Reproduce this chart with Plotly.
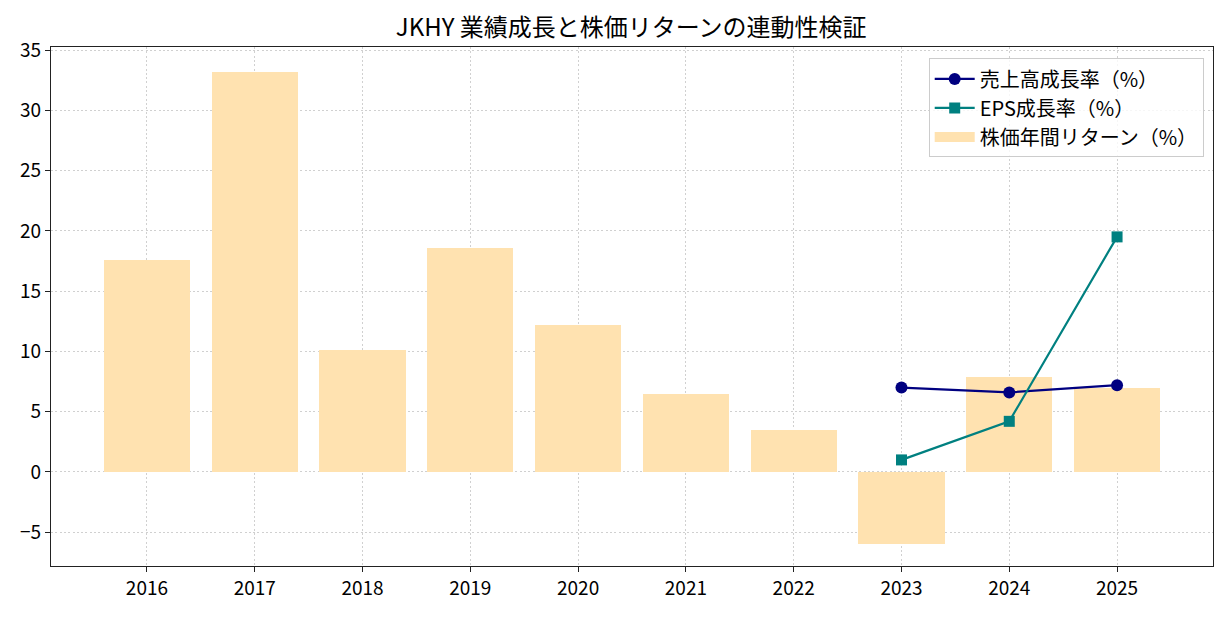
import plotly.graph_objects as go

years = [2016, 2017, 2018, 2019, 2020, 2021, 2022, 2023, 2024, 2025]
stock_return = [17.6, 33.2, 10.1, 18.6, 12.2, 6.5, 3.5, -6.0, 7.9, 7.0]
line_years = [2023, 2024, 2025]
revenue_growth = [7.0, 6.6, 7.2]
eps_growth = [1.0, 4.2, 19.5]

FONT = "Noto Sans CJK JP"
BAR_COLOR = "#FFE2B0"

fig = go.Figure()
fig.add_trace(go.Bar(
    x=years, y=stock_return, width=0.8,
    marker=dict(color=BAR_COLOR, line=dict(width=0)),
    name="株価年間リターン（%）",
    showlegend=False,
))
fig.add_trace(go.Scatter(
    x=line_years, y=revenue_growth, mode="lines+markers",
    line=dict(color="#000080", width=2.2),
    marker=dict(symbol="circle", size=12, color="#000080"),
    name="売上高成長率（%）",
    legendrank=1,
))
fig.add_trace(go.Scatter(
    x=line_years, y=eps_growth, mode="lines+markers",
    line=dict(color="#008080", width=2.2),
    marker=dict(symbol="square", size=11, color="#008080"),
    name="EPS成長率（%）",
    legendrank=2,
))
# legend entry for bars (wide patch like the reference)
fig.add_trace(go.Scatter(
    x=[None], y=[None], mode="lines",
    line=dict(color=BAR_COLOR, width=12),
    name="株価年間リターン（%）",
    legendrank=3,
))

axis_common = dict(
    showline=True, linecolor="#222222", linewidth=1.3, mirror=True,
    ticks="outside", ticklen=5, tickcolor="#222222", tickwidth=1.3,
    showgrid=True, gridcolor="#d0d0d0", griddash="2px,2.3px", gridwidth=1.2,
    zeroline=False,
    tickfont=dict(family=FONT, size=19, color="black"),
)

fig.update_layout(
    width=1228, height=617,
    margin=dict(l=51, r=15, t=47, b=51),
    paper_bgcolor="white", plot_bgcolor="white",
    title=dict(text="JKHY 業績成長と株価リターンの連動性検証",
               x=0.514, xanchor="center", y=0.955, yanchor="middle",
               font=dict(family=FONT, size=24, color="black")),
    xaxis=dict(range=[2015.11, 2025.89], tickvals=years,
               ticktext=[str(y) for y in years], **axis_common),
    yaxis=dict(range=[-7.8, 35.25], tickvals=[-5, 0, 5, 10, 15, 20, 25, 30, 35],
               ticktext=["−5", "0", "5", "10", "15", "20", "25", "30", "35"], **axis_common),
    legend=dict(
        x=0.992, y=0.978, xanchor="right", yanchor="top",
        bgcolor="rgba(255,255,255,0.8)", bordercolor="#cccccc", borderwidth=1,
        font=dict(family=FONT, size=20, color="black"),
        traceorder="normal", itemwidth=40,
    ),
    showlegend=True,
    bargap=0,
)

fig.write_html("out.html")
